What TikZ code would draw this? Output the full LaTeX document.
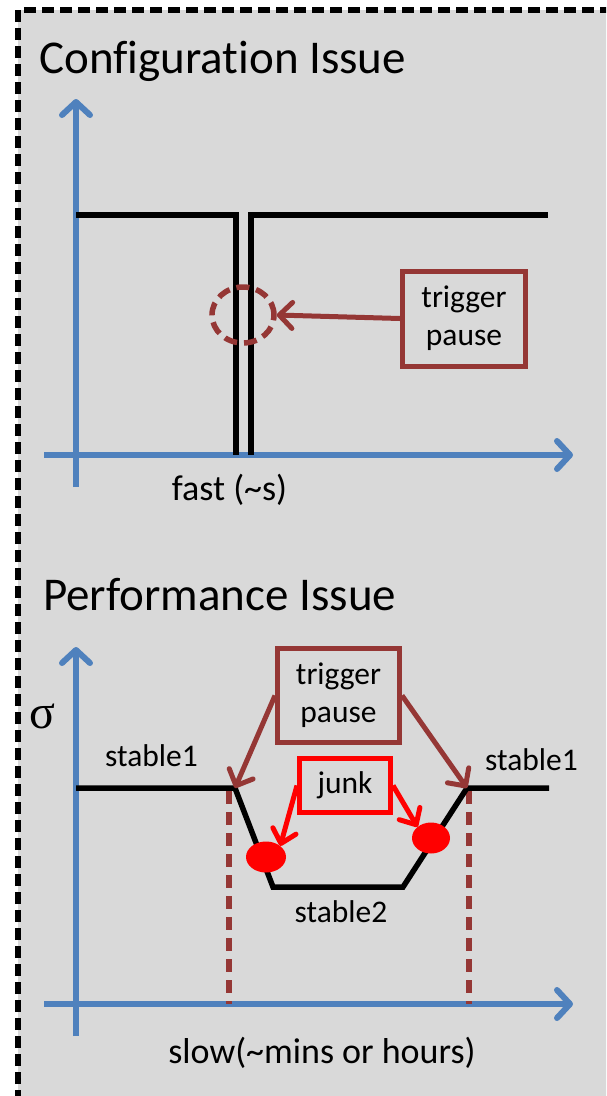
\documentclass[tikz,border=0pt]{standalone}
\usepackage{fontspec}
\setmainfont{Carlito}[Ligatures={NoCommon}]
\newfontfamily\sigmafont{Liberation Serif}
\usetikzlibrary{arrows.meta,shapes.geometric}
\definecolor{panelgray}{HTML}{D9D9D9}
\definecolor{axisblue}{HTML}{4F81BD}
\definecolor{pausered}{HTML}{953735}
\definecolor{junkred}{HTML}{FF0000}
\newcommand{\ptitle}{\fontsize{47}{56}\selectfont}
\newcommand{\plabel}{\fontsize{36}{43}\selectfont}
\newcommand{\pnote}{\fontsize{31.5}{38}\selectfont}
\tikzset{
	axis/.style={axisblue,line width=6pt,-{Straight Barb[length=13pt,width=28pt,round]}},
	signal/.style={black,line width=5.5pt},
	pausebox/.style={draw=pausered,line width=5pt,align=center,font=\pnote,inner sep=0pt},
	junkbox/.style={draw=junkred,line width=5pt,font=\pnote,inner sep=0pt,minimum width=91pt,minimum height=54pt},
	pausearrow/.style={pausered,line width=5pt,-{Straight Barb[length=13pt,width=26pt,round]}},
	junkarrow/.style={junkred,line width=5pt,-{Straight Barb[length=13pt,width=24pt,round]}},
	cutline/.style={pausered,line width=6pt,dash pattern=on 13pt off 8pt},
	dot/.style={ellipse,fill=junkred,minimum width=40pt,minimum height=31pt,inner sep=0pt}
}
\begin{document}
\begin{tikzpicture}[x=1pt,y=-1pt]
			\useasboundingbox (0,0) rectangle (606,1096);
			\clip (0,0) rectangle (606,1096);
			% panel
			\fill [panelgray] (18,10) rectangle (630,1120);
			\draw [black,line width=5.5pt,dash pattern=on 12pt off 6pt] (18,1120) -- (18,10) -- (630,10);
			% configuration issue
			\node [font=\ptitle,anchor=base west,inner sep=0pt] (cfgtitle) at (39,73) {Configuration Issue};
			\coordinate (cfgy0) at (76,487);
			\coordinate (cfgy1) at (76,99);
			\coordinate (cfgx0) at (44,455);
			\coordinate (cfgx1) at (573,455);
			\draw [axis] (cfgy0) -- (cfgy1);
			\draw [axis] (cfgx0) -- (cfgx1);
			\draw [signal] (76,215) -- (236,215) -- (236,455);
			\draw [signal] (251,455) -- (251,215) -- (548,215);
			\node [font=\plabel,anchor=base,inner sep=0pt] (fast) at (229.5,500) {fast (\textasciitilde s)};
			\node [ellipse,draw=pausered,line width=5.5pt,dash pattern=on 13pt off 7pt,minimum width=62pt,minimum height=56pt,inner sep=0pt] (cut) at (243,315) {};
			\node [pausebox,minimum width=123pt,minimum height=95pt] (pause1) at (464,318.5) {trigger\\pause};
			\draw [pausearrow] (pause1.west) -- (cut.east);
			% performance issue
			\node [font=\ptitle,anchor=base west,inner sep=0pt] (perftitle) at (43,610) {Performance Issue};
			\coordinate (perfy0) at (76,1036);
			\coordinate (perfy1) at (76,647);
			\coordinate (perfx0) at (44,1004);
			\coordinate (perfx1) at (573,1004);
			\draw [axis] (perfy0) -- (perfy1);
			\draw [axis] (perfx0) -- (perfx1);
			\node [font=\fontsize{48}{56}\sigmafont,inner sep=0pt] (sigma) at (42,716) {σ};
			\coordinate (dropL) at (235,788);
			\coordinate (dropR) at (467,788);
			\draw [cutline] (229,791) -- (229,1004);
			\draw [cutline] (469,791) -- (469,1004);
			\draw [signal] (76,788) -- (dropL) -- (273,887) -- (403,887) -- (dropR) -- (549,788);
			\node [font=\pnote,anchor=base west,inner sep=0pt] (stableL) at (105,766) {stable1};
			\node [font=\pnote,anchor=base west,inner sep=0pt] (stableR) at (485,770) {stable1};
			\node [font=\pnote,anchor=base,inner sep=0pt] (stable2) at (341,922) {stable2};
			\node [font=\plabel,anchor=base,inner sep=0pt] (slow) at (322,1063) {slow(\textasciitilde mins or hours)};
			\node [dot] (dotL) at (266,857) {};
			\node [dot,minimum width=38pt] (dotR) at (431,838) {};
			\node [pausebox,minimum width=122pt,minimum height=94pt] (pause2) at (338.5,695.5) {trigger\\pause};
			\node [junkbox] (junk) at (345,785.5) {junk};
			\draw [pausearrow] (pause2.west) -- (dropL);
			\draw [pausearrow] (pause2.east) -- (dropR);
			\draw [junkarrow] (junk.west) -- (dotL.north east);
			\draw [junkarrow] (junk.east) -- (dotR.north west);
		\end{tikzpicture}
\end{document}
